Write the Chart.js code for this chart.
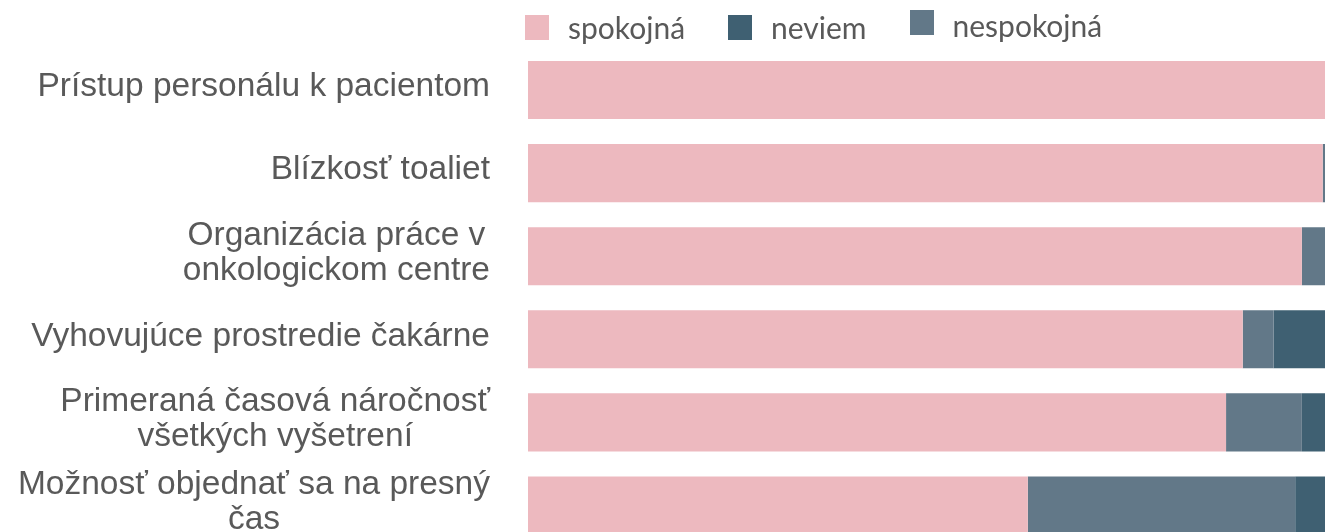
<!DOCTYPE html>
<html>
<head>
<meta charset="utf-8">
<script src="https://cdn.jsdelivr.net/npm/chart.js@4"></script>
<style>
  html, body { margin: 0; padding: 0; background: #fff; overflow: hidden; }
  #wrap { position: absolute; left: 0; top: 0; width: 1361px; height: 547px; }
  #legend { position: absolute; left: 525px; top: 9px; display: flex; align-items: center;
            font-family: Lato, sans-serif; font-size: 30px; line-height: 36px; color: #595959; }
  .item { display: flex; align-items: center; margin-right: 43px; }
  .box { width: 24px; height: 25px; margin-right: 19px; }
  .item:nth-child(3) .box { position: relative; top: -5px; }
  .item:nth-child(3) span { position: relative; top: -2px; }
</style>
</head>
<body>
<div id="wrap"><canvas id="chart"></canvas></div>
<div id="legend"></div>
<script>
  var categories = [
    'Prístup personálu k pacientom',
    'Blízkosť toaliet',
    ['Organizácia práce v', 'onkologickom centre'],
    'Vyhovujúce prostredie čakárne',
    ['Primeraná časová náročnosť', 'všetkých vyšetrení'],
    ['Možnosť objednať sa na presný', 'čas']
  ];
  // percent of respondents
  var spokojna = [100, 95.4, 92.9, 85.8, 83.8, 60.0];
  var nespokojna = [0, 4.6, 7.1, 3.7, 9.1, 32.1];
  var neviem = [0, 0, 0, 10.5, 7.1, 7.9];

  var legendOrder = ['spokojná', 'neviem', 'nespokojná'];

  // category labels, each line centred, block right aligned
  var labelPlugin = {
    id: 'catLabels',
    afterDraw: (chart) => {
      var ctx = chart.ctx;
      var yScale = chart.scales.y;
      var right = chart.chartArea.left - 38;
      ctx.save();
      ctx.font = '33.5px "Liberation Sans", Arial, sans-serif';
      ctx.fillStyle = '#595959';
      ctx.textAlign = 'center';
      ctx.textBaseline = 'middle';
      chart.data.labels.forEach((label, i) => {
        var lines = Array.isArray(label) ? label : [label];
        var w = Math.max.apply(null, lines.map((l) => ctx.measureText(l).width));
        var cx = right - w / 2;
        var y = yScale.getPixelForValue(i) - 3;
        lines.forEach((line, j) => {
          ctx.fillText(line, cx, y + (j - (lines.length - 1) / 2) * 35);
        });
      });
      ctx.restore();
    }
  };

  function renderLegend(chart) {
    var html = '';
    legendOrder.forEach((name) => {
      var ds = chart.data.datasets.find((d) => d.label === name);
      html += '<div class="item"><div class="box" style="background:' + ds.backgroundColor +
        '"></div><span>' + ds.label + '</span></div>';
    });
    document.getElementById('legend').innerHTML = html;
  }

  var chart = new Chart(document.getElementById('chart'), {
    type: 'bar',
    data: {
      labels: categories,
      datasets: [
        { label: 'spokojná', data: spokojna, backgroundColor: '#edb9bf' },
        { label: 'nespokojná', data: nespokojna, backgroundColor: '#627888' },
        { label: 'neviem', data: neviem, backgroundColor: '#3f6072' }
      ]
    },
    options: {
      indexAxis: 'y',
      responsive: true,
      maintainAspectRatio: false,
      animation: false,
      layout: { padding: { left: 528, top: 48.5, right: 0, bottom: 0 } },
      datasets: { bar: { categoryPercentage: 1, barPercentage: 0.7, borderWidth: 0 } },
      scales: {
        x: { stacked: true, min: 0, max: 100, display: false },
        y: { stacked: true, display: false }
      },
      plugins: {
        legend: { display: false },
        tooltip: { enabled: false }
      }
    },
    plugins: [labelPlugin]
  });

  renderLegend(chart);
</script>
</body>
</html>
